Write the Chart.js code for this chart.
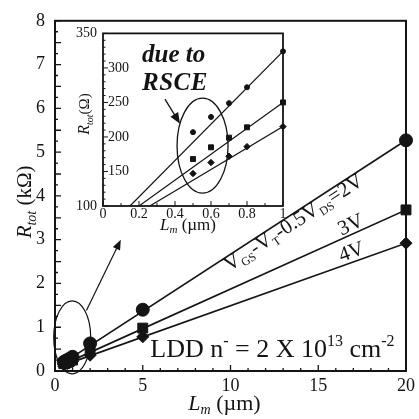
<!DOCTYPE html>
<html><head><meta charset="utf-8">
<script src="https://cdn.jsdelivr.net/npm/chart.js@4/dist/chart.umd.min.js"></script>
<style>
html,body{margin:0;padding:0;background:#fff;}
#wrap{position:relative;width:419px;height:419px;overflow:hidden;}
#main{position:absolute;left:0;top:0;}
#inset{position:absolute;left:60px;top:20px;}
</style></head><body>
<div id="wrap"><canvas id="main" width="419" height="419"></canvas><canvas id="inset" width="230" height="230"></canvas></div>
<script>
// ---------- data (main plot: L_m in µm, R_tot in kΩ) ----------
const lengthsMain = [0.5, 0.6, 0.7, 0.8, 1, 2, 5, 20];
const rMain2V = [0.207, 0.229, 0.249, 0.272, 0.324, 0.63, 1.40, 5.27];
const rMain3V = [0.168, 0.185, 0.199, 0.214, 0.250, 0.48, 0.98, 3.68];
const rMain4V = [0.147, 0.163, 0.172, 0.186, 0.215, 0.36, 0.78, 2.92];
const fitMain2V = {x: [0.15, 20], y: [0.10, 5.27]};
const fitMain3V = {x: [0.20, 20], y: [0.10, 3.68]};
const fitMain4V = {x: [0.26, 20], y: [0.10, 2.92]};
const xTicksMain = [0, 5, 10, 15, 20];
const yTicksMain = [0, 1, 2, 3, 4, 5, 6, 7, 8];

// ---------- data (inset: L_m in µm, R_tot in Ω) ----------
const lengthsInset = [0.5, 0.6, 0.7, 0.8, 1.0];
const rInset2V = [207, 229, 249, 272, 324];
const rInset3V = [168, 185, 199, 214, 250];
const rInset4V = [147, 163, 172, 186, 215];
const fitInset2V = {x: [0.15, 1], y: [100, 324]};
const fitInset3V = {x: [0.20, 1], y: [100, 250]};
const fitInset4V = {x: [0.26, 1], y: [100, 215]};
const xTicksInset = [0, 0.2, 0.4, 0.6, 0.8, 1];
const yTicksInset = [100, 150, 200, 250, 300, 350];

// ---------- helpers ----------
const SERIF = '"Liberation Serif", "Times New Roman", serif';
const f = (size, style) => `${style || ''} ${size}px ${SERIF}`;
const INK = '#141414';
const pts = (xs, ys) => xs.map((x, i) => ({x, y: ys[i]}));
const onLine = (fit, xv) => fit.y[0] + (fit.y[1] - fit.y[0]) * (xv - fit.x[0]) / (fit.x[1] - fit.x[0]);

function drawRich(ctx, segs, x, y, angle, align) {
  ctx.save();
  ctx.translate(x, y);
  ctx.rotate(angle || 0);
  ctx.textBaseline = 'alphabetic';
  ctx.textAlign = 'left';
  let total = 0;
  segs.forEach(s => { ctx.font = s.f; s.w = ctx.measureText(s.t).width + (s.ls || 0) * s.t.length; total += s.w; });
  let cx = align === 'center' ? -total / 2 : 0;
  segs.forEach(s => {
    ctx.font = s.f;
    if (s.ls) {
      for (const ch of s.t) { ctx.fillText(ch, cx, s.dy || 0); cx += ctx.measureText(ch).width + s.ls; }
    } else { ctx.fillText(s.t, cx, s.dy || 0); cx += s.w; }
  });
  ctx.restore();
}
function arrow(ctx, x1, y1, x2, y2, head, half) {
  const a = Math.atan2(y2 - y1, x2 - x1);
  ctx.beginPath(); ctx.moveTo(x1, y1);
  ctx.lineTo(x2 - Math.cos(a) * head * 0.7, y2 - Math.sin(a) * head * 0.7); ctx.stroke();
  ctx.beginPath();
  ctx.moveTo(x2, y2);
  ctx.lineTo(x2 - head * Math.cos(a) + half * Math.sin(a), y2 - head * Math.sin(a) - half * Math.cos(a));
  ctx.lineTo(x2 - head * Math.cos(a) - half * Math.sin(a), y2 - head * Math.sin(a) + half * Math.cos(a));
  ctx.closePath(); ctx.fill();
}
function lineAngle(xs, ys, fit) {
  const dx = xs.getPixelForValue(fit.x[1]) - xs.getPixelForValue(fit.x[0]);
  const dy = ys.getPixelForValue(fit.y[1]) - ys.getPixelForValue(fit.y[0]);
  return Math.atan2(dy, dx);
}
function lineLabel(ctx, xs, ys, fit, xv, off, segs) {
  const ang = lineAngle(xs, ys, fit);
  const px = xs.getPixelForValue(xv), py = ys.getPixelForValue(onLine(fit, xv));
  ctx.save(); ctx.translate(px, py); ctx.rotate(ang);
  drawRich(ctx, segs, 0, off, 0, 'left');
  ctx.restore();
}

const lineDs = (fit, w) => ({data: pts(fit.x, fit.y), showLine: true, pointRadius: 0, borderColor: INK, borderWidth: w, fill: false});
const ptDs = (xs, ys, style, r) => ({data: pts(xs, ys), showLine: false, pointStyle: style, pointRadius: r, pointHoverRadius: r, backgroundColor: INK, borderColor: INK, borderWidth: 1, clip: false});

// ---------- main chart ----------
const mainDeco = {
  id: 'mainDeco',
  afterDraw(chart) {
    const {ctx, chartArea: a, scales: {x, y}} = chart;
    ctx.save();
    ctx.strokeStyle = INK; ctx.fillStyle = INK;
    ctx.lineWidth = 2;
    ctx.strokeRect(a.left, a.top, a.right - a.left, a.bottom - a.top);
    ctx.lineWidth = 1.3;
    ctx.beginPath();
    for (let i = 0; i <= 20; i++) {
      const px = x.getPixelForValue(i), len = i % 5 === 0 ? 6 : 3;
      ctx.moveTo(px, a.bottom); ctx.lineTo(px, a.bottom - len);
    }
    for (let i = 0; i <= 32; i++) {
      const py = y.getPixelForValue(i * 0.25), len = i % 2 === 0 ? 6 : 3;
      ctx.moveTo(a.left, py); ctx.lineTo(a.left + len, py);
    }
    ctx.stroke();
    // ellipse around short-channel cluster + arrow to inset
    ctx.lineWidth = 1.2;
    ctx.beginPath();
    ctx.ellipse(x.getPixelForValue(0.98), y.getPixelForValue(0.77), 18.5, 36.5, 0, 0, Math.PI * 2);
    ctx.stroke();
    arrow(ctx, x.getPixelForValue(1.79), y.getPixelForValue(1.38), x.getPixelForValue(3.75), y.getPixelForValue(3.0), 10, 4);
    // line labels
    lineLabel(ctx, x, y, fitMain2V, 9.5, 14, [
      {t: 'V', f: f(21)}, {t: 'GS', f: f(12), dy: 4}, {t: '-V', f: f(21)}, {t: 'T', f: f(12), dy: 4},
      {t: '-0.5V', f: f(21)}, {t: 'DS', f: f(12), dy: 4}, {t: '=2V', f: f(21)}]);
    lineLabel(ctx, x, y, fitMain3V, 16.4, -3, [{t: '3V', f: f(21)}]);
    lineLabel(ctx, x, y, fitMain4V, 16.4, -4, [{t: '4V', f: f(21)}]);
    // LDD annotation
    drawRich(ctx, [
      {t: 'LDD n', f: f(26)}, {t: '-', f: f(16), dy: -11}, {t: ' = 2 X 10', f: f(26)},
      {t: '13', f: f(16), dy: -11}, {t: ' cm', f: f(26)}, {t: '-2', f: f(16), dy: -11}],
      x.getPixelForValue(5.43), y.getPixelForValue(0.32), 0, 'left');
    // axis titles
    drawRich(ctx, [{t: 'R', f: f(21, 'italic')}, {t: 'tot', f: f(14, 'italic'), dy: 5}, {t: ' (kΩ)', f: f(21)}],
      31, (a.top + a.bottom) / 2 + 6, -Math.PI / 2, 'center');
    drawRich(ctx, [{t: 'L', f: f(22, 'italic')}, {t: 'm', f: f(14, 'italic'), dy: 4}, {t: ' (µm)', f: f(22)}],
      (a.left + a.right) / 2 - 6, 410, 0, 'center');
    ctx.restore();
  }
};

new Chart(document.getElementById('main'), {
  type: 'scatter',
  data: {datasets: [
    lineDs(fitMain2V, 1.7), lineDs(fitMain3V, 1.7), lineDs(fitMain4V, 1.7),
    ptDs(lengthsMain, rMain2V, 'circle', 6.5),
    ptDs(lengthsMain, rMain3V, 'rect', 7),
    ptDs(lengthsMain, rMain4V, 'rectRot', 6)
  ]},
  options: {
    responsive: false, animation: false, devicePixelRatio: 1,
    layout: {padding: {top: 17, right: 7, left: 0, bottom: 0}},
    plugins: {legend: {display: false}, tooltip: {enabled: false}},
    scales: {
      x: {type: 'linear', min: 0, max: 20,
        afterBuildTicks: s => { s.ticks = xTicksMain.map(v => ({value: v})); },
        afterFit: s => { s.height = 48; },
        grid: {display: false, drawTicks: false}, border: {display: false},
        ticks: {font: {family: SERIF, size: 18}, color: INK, padding: 4, maxRotation: 0}},
      y: {type: 'linear', min: 0, max: 8,
        afterBuildTicks: s => { s.ticks = yTicksMain.map(v => ({value: v})); },
        afterFit: s => { s.width = 55; },
        grid: {display: false, drawTicks: false}, border: {display: false},
        ticks: {font: {family: SERIF, size: 18}, color: INK, padding: 10}}
    }
  },
  plugins: [mainDeco]
});

// ---------- inset chart ----------
const insetDeco = {
  id: 'insetDeco',
  beforeDraw(chart) {
    const {ctx, chartArea: a} = chart;
    ctx.save(); ctx.fillStyle = '#fff';
    ctx.fillRect(a.left, a.top, a.right - a.left, a.bottom - a.top);
    ctx.restore();
  },
  afterDraw(chart) {
    const {ctx, chartArea: a, scales: {x, y}} = chart;
    ctx.save();
    ctx.strokeStyle = INK; ctx.fillStyle = INK;
    ctx.lineWidth = 1.8;
    ctx.strokeRect(a.left, a.top, a.right - a.left, a.bottom - a.top);
    ctx.lineWidth = 1;
    ctx.beginPath();
    for (let i = 0; i <= 10; i++) {
      const px = x.getPixelForValue(i / 10), len = i % 2 === 0 ? 5 : 3;
      ctx.moveTo(px, a.bottom); ctx.lineTo(px, a.bottom - len);
    }
    for (let v = 100; v <= 350; v += 10) {
      const py = y.getPixelForValue(v), len = v % 50 === 0 ? 5 : 2.5;
      ctx.moveTo(a.left, py); ctx.lineTo(a.left + len, py);
    }
    ctx.stroke();
    // end labels outside frame
    ctx.font = f(14); ctx.textAlign = 'right'; ctx.textBaseline = 'middle';
    [yTicksInset[0], yTicksInset[yTicksInset.length - 1]].forEach(v => ctx.fillText(String(v), a.left - 6, y.getPixelForValue(v)));
    // titles
    drawRich(ctx, [{t: 'R', f: f(16, 'italic')}, {t: 'tot', f: f(10, 'italic'), dy: 4}, {t: '(Ω)', f: f(15)}],
      29, 94, -Math.PI / 2, 'center');
    drawRich(ctx, [{t: 'L', f: f(17, 'italic')}, {t: 'm', f: f(11, 'italic'), dy: 3}, {t: ' (µm)', f: f(17)}],
      128, 210, 0, 'center');
    // RSCE annotation
    drawRich(ctx, [{t: 'due to', f: f(25, 'italic bold')}], 82, 42, 0, 'left');
    drawRich(ctx, [{t: 'RSCE', f: f(25, 'italic bold'), ls: 0.5}], 82, 70, 0, 'left');
    ctx.lineWidth = 1.3;
    arrow(ctx, x.getPixelForValue(0.344), y.getPixelForValue(254.8), x.getPixelForValue(0.428), y.getPixelForValue(219.3), 11, 4.5);
    ctx.beginPath();
    ctx.ellipse(x.getPixelForValue(0.553), y.getPixelForValue(187.4), 25.5, 47.5, 0, 0, Math.PI * 2);
    ctx.stroke();
    ctx.restore();
  }
};

new Chart(document.getElementById('inset'), {
  type: 'scatter',
  data: {datasets: [
    lineDs(fitInset2V, 1.2), lineDs(fitInset3V, 1.2), lineDs(fitInset4V, 1.2),
    ptDs(lengthsInset, rInset2V, 'circle', 2.5),
    ptDs(lengthsInset, rInset3V, 'rect', 3.5),
    ptDs(lengthsInset, rInset4V, 'rectRot', 3.2)
  ]},
  options: {
    responsive: false, animation: false, devicePixelRatio: 1,
    layout: {padding: {top: 10, right: 7, left: 0, bottom: 0}},
    plugins: {legend: {display: false}, tooltip: {enabled: false}},
    scales: {
      x: {type: 'linear', min: 0, max: 1,
        afterBuildTicks: s => { s.ticks = xTicksInset.map(v => ({value: v})); },
        afterFit: s => { s.height = 44; },
        grid: {display: false, drawTicks: false}, border: {display: false},
        ticks: {font: {family: SERIF, size: 14}, color: INK, padding: 0, maxRotation: 0,
          callback: v => (v === 0 || v === 1) ? String(v) : v.toFixed(1)}},
      y: {type: 'linear', min: 100, max: 350,
        afterBuildTicks: s => { s.ticks = yTicksInset.map(v => ({value: v})); },
        afterFit: s => { s.width = 43; },
        grid: {display: false, drawTicks: false}, border: {display: false},
        ticks: {font: {family: SERIF, size: 14}, color: INK, mirror: true, padding: 5,
          callback: v => (v === 100 || v === 350) ? '' : String(v)}}
    }
  },
  plugins: [insetDeco]
});
</script>
</body></html>
